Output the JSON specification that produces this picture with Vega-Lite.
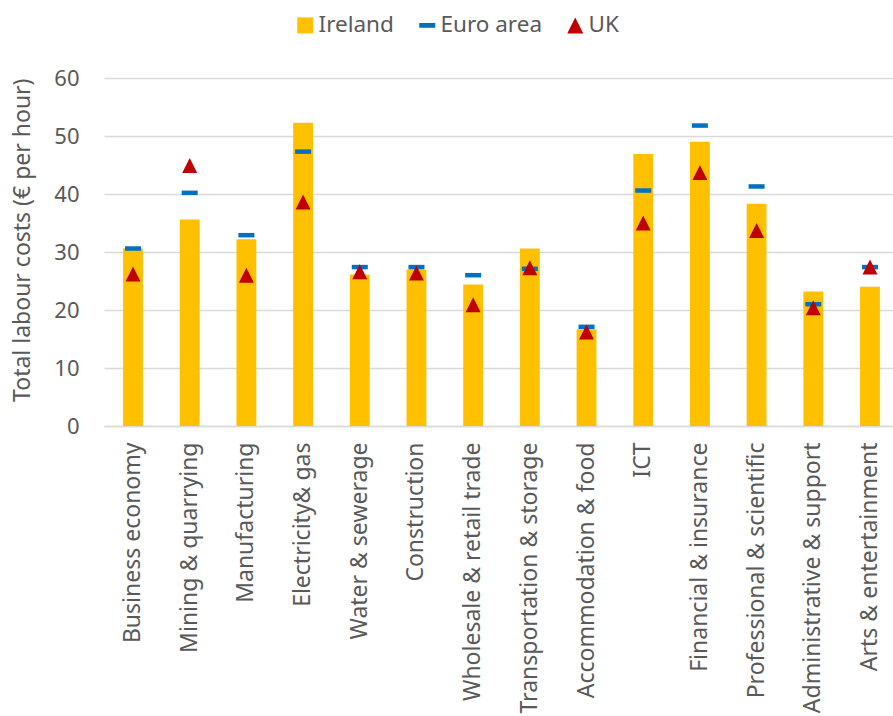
{
  "$schema": "https://vega.github.io/schema/vega-lite/v6.json",
  "width": 789,
  "height": 348,
  "autosize": {"type": "none"},
  "padding": {"left": 104, "top": 78, "right": 0, "bottom": 290},
  "background": "white",
  "config": {
    "font": "Noto Sans",
    "view": {"stroke": null},
    "axis": {"labelFont": "Noto Sans", "titleFont": "Noto Sans", "labelColor": "#595959", "titleColor": "#595959", "labelFontSize": 22, "titleFontSize": 23, "titleFontWeight": "normal"}
  },
  "data": {
    "values": [
      {"sector": "Business economy", "series": "Ireland", "value": 30.6},
      {"sector": "Business economy", "series": "Euro area", "value": 30.6},
      {"sector": "Business economy", "series": "UK", "value": 26.2},
      {"sector": "Mining & quarrying", "series": "Ireland", "value": 35.6},
      {"sector": "Mining & quarrying", "series": "Euro area", "value": 40.2},
      {"sector": "Mining & quarrying", "series": "UK", "value": 44.9},
      {"sector": "Manufacturing", "series": "Ireland", "value": 32.2},
      {"sector": "Manufacturing", "series": "Euro area", "value": 32.9},
      {"sector": "Manufacturing", "series": "UK", "value": 26.0},
      {"sector": "Electricity& gas", "series": "Ireland", "value": 52.3},
      {"sector": "Electricity& gas", "series": "Euro area", "value": 47.3},
      {"sector": "Electricity& gas", "series": "UK", "value": 38.6},
      {"sector": "Water & sewerage", "series": "Ireland", "value": 26.1},
      {"sector": "Water & sewerage", "series": "Euro area", "value": 27.4},
      {"sector": "Water & sewerage", "series": "UK", "value": 26.6},
      {"sector": "Construction", "series": "Ireland", "value": 27.0},
      {"sector": "Construction", "series": "Euro area", "value": 27.4},
      {"sector": "Construction", "series": "UK", "value": 26.4},
      {"sector": "Wholesale & retail trade", "series": "Ireland", "value": 24.4},
      {"sector": "Wholesale & retail trade", "series": "Euro area", "value": 26.0},
      {"sector": "Wholesale & retail trade", "series": "UK", "value": 20.9},
      {"sector": "Transportation & storage", "series": "Ireland", "value": 30.6},
      {"sector": "Transportation & storage", "series": "Euro area", "value": 27.1},
      {"sector": "Transportation & storage", "series": "UK", "value": 27.3},
      {"sector": "Accommodation & food", "series": "Ireland", "value": 16.7},
      {"sector": "Accommodation & food", "series": "Euro area", "value": 17.1},
      {"sector": "Accommodation & food", "series": "UK", "value": 16.2},
      {"sector": "ICT", "series": "Ireland", "value": 46.9},
      {"sector": "ICT", "series": "Euro area", "value": 40.6},
      {"sector": "ICT", "series": "UK", "value": 35.0},
      {"sector": "Financial & insurance", "series": "Ireland", "value": 49.0},
      {"sector": "Financial & insurance", "series": "Euro area", "value": 51.8},
      {"sector": "Financial & insurance", "series": "UK", "value": 43.7},
      {"sector": "Professional & scientific", "series": "Ireland", "value": 38.3},
      {"sector": "Professional & scientific", "series": "Euro area", "value": 41.3},
      {"sector": "Professional & scientific", "series": "UK", "value": 33.7},
      {"sector": "Administrative & support", "series": "Ireland", "value": 23.2},
      {"sector": "Administrative & support", "series": "Euro area", "value": 21.0},
      {"sector": "Administrative & support", "series": "UK", "value": 20.4},
      {"sector": "Arts & entertainment", "series": "Ireland", "value": 24.0},
      {"sector": "Arts & entertainment", "series": "Euro area", "value": 27.4},
      {"sector": "Arts & entertainment", "series": "UK", "value": 27.4}
    ]
  },
  "encoding": {
    "x": {
      "field": "sector",
      "type": "nominal",
      "sort": null,
      "scale": {"paddingInner": 0.65, "paddingOuter": 0.284, "align": 0.593},
      "axis": {"title": null, "labelAngle": -90, "ticks": false, "labelPadding": 16, "labelLimit": 400, "labelFontSize": 23, "domainColor": "#D9D9D9", "domainWidth": 1.5, "grid": false}
    },
    "y": {
      "field": "value",
      "type": "quantitative",
      "scale": {"domain": [0, 60], "nice": false},
      "axis": {"title": "Total labour costs (€ per hour)", "values": [0, 10, 20, 30, 40, 50, 60], "ticks": false, "domain": false, "labelPadding": 25, "gridColor": "#D9D9D9", "gridWidth": 1.5, "titlePadding": 19, "titleAnchor": "end"}
    },
    "color": {
      "field": "series",
      "type": "nominal",
      "scale": {"domain": ["Ireland", "Euro area", "UK"], "range": ["#FFC000", "#0070C0", "#C00000"]},
      "legend": {"title": null, "orient": "none", "direction": "horizontal", "legendX": 190, "legendY": -64, "labelFontSize": 22.5, "labelColor": "#595959", "labelFont": "Noto Sans", "symbolSize": 256, "labelOffset": 2, "columnPadding": 22, "symbolStrokeWidth": 0, "symbolOpacity": 1}
    }
  },
  "layer": [
    {
      "transform": [{"filter": "datum.series === 'Ireland'"}],
      "mark": {"type": "bar"}
    },
    {
      "transform": [{"filter": "datum.series === 'Euro area'"}],
      "mark": {"type": "tick", "size": 16, "thickness": 4.5, "opacity": 1}
    },
    {
      "transform": [{"filter": "datum.series === 'UK'"}],
      "mark": {"type": "point", "filled": true, "opacity": 1, "size": 225},
      "encoding": {
        "shape": {
          "field": "series",
          "type": "nominal",
          "scale": {"domain": ["Ireland", "Euro area", "UK"], "range": ["square", "M-1,-0.3H1V0.3H-1Z", "M0,-1L1,1L-1,1Z"]},
          "legend": {"title": null, "orient": "none", "direction": "horizontal", "legendX": 190, "legendY": -64, "labelFontSize": 22.5, "labelColor": "#595959", "labelFont": "Noto Sans", "symbolSize": 256, "labelOffset": 2, "columnPadding": 22, "symbolStrokeWidth": 0, "symbolOpacity": 1}
        }
      }
    }
  ]
}
